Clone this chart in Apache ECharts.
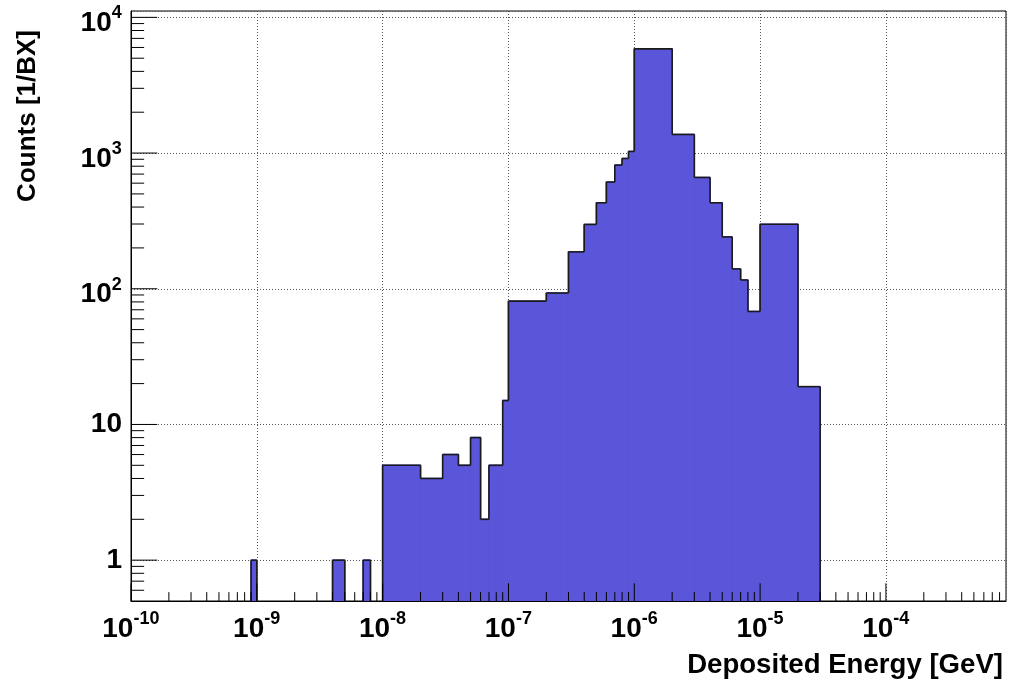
<!DOCTYPE html>
<html><head><meta charset="utf-8">
<script src="https://cdn.jsdelivr.net/npm/echarts@6/dist/echarts.min.js"></script>
<style>html,body{margin:0;padding:0;background:#fff}#c{width:1019px;height:683px}</style>
</head><body><div id="c"></div>
<script>
// ---- data ----
const binEdges = [9e-10, 1e-9, 2e-9, 3e-9, 4e-9, 5e-9, 6e-9, 7e-9, 8e-9, 9e-9,
  1e-8, 2e-8, 3e-8, 4e-8, 5e-8, 6e-8, 7e-8, 8e-8, 9e-8,
  1e-7, 2e-7, 3e-7, 4e-7, 5e-7, 6e-7, 7e-7, 8e-7, 9e-7,
  1e-6, 2e-6, 3e-6, 4e-6, 5e-6, 6e-6, 7e-6, 8e-6, 9e-6,
  1e-5, 2e-5, 3e-5];
const counts = [1, 0, 0, 0, 1, 0, 0, 1, 0, 0,
  5, 4, 6, 5, 8, 2, 5, 5, 15,
  81, 93, 187, 298, 430, 611, 815, 912, 1028,
  5860, 1371, 661, 430, 241, 140, 116, 68, 68,
  299, 19];
const xRange = [1e-10, 9e-4];
const yRange = [0.5, 11140];
const xDecades = [1e-10, 1e-9, 1e-8, 1e-7, 1e-6, 1e-5, 1e-4];
const yDecades = [0.1, 1, 10, 100, 1000, 10000];
const xTitle = 'Deposited Energy [GeV]';
const yTitle = 'Counts [1/BX]';

const FONT = "'Liberation Sans', Arial, Helvetica, sans-serif";
const FILL = '#5a55d9';
const EDGE = '#1a1a1a';

// tick positions (decades and the 2..9 sub-divisions)
function ticksFor(decades, range) {
  const out = [];
  decades.forEach(d => {
    for (let k = 1; k <= 9; k++) {
      const v = k * d;
      if (v >= range[0] * 0.9999 && v < range[1] * 0.9999) out.push([v, k === 1 ? 1 : 0]);
    }
  });
  return out;
}
const xTicks = ticksFor(xDecades, xRange).map(t => [t[0], 1, t[1]]);
const yTicks = ticksFor(yDecades, yRange).filter(t => t[0] > yRange[0]).map(t => [xRange[0], t[0], t[1]]);

const histData = counts.map((c, i) => [binEdges[i], binEdges[i + 1], c,
  i > 0 ? counts[i - 1] : 0, i < counts.length - 1 ? counts[i + 1] : 0]);

function isPow10(v) {
  const l = Math.log10(v), e = Math.round(l);
  return Math.abs(l - e) < 1e-6 ? e : null;
}

function yOf(api, cs, x, v) {
  if (!(v > 0)) return cs.y + cs.height;
  return Math.max(cs.y, api.coord([x, v])[1]);
}

function renderFill(params, api) {
  const cs = params.coordSys, bottom = cs.y + cs.height;
  const c = api.value(2);
  if (!(c > 0)) return null;
  const x0 = api.coord([api.value(0), 1])[0];
  const x1 = api.coord([api.value(1), 1])[0];
  const yc = yOf(api, cs, api.value(0), c);
  return {type: 'rect', shape: {x: x0, y: yc, width: x1 - x0, height: bottom - yc},
    style: {fill: FILL, stroke: FILL, lineWidth: 1.5}};
}

function renderEdge(params, api) {
  const cs = params.coordSys, bottom = cs.y + cs.height;
  const lo = api.value(0), c = api.value(2), prev = api.value(3), next = api.value(4);
  const x0 = api.coord([lo, 1])[0];
  const x1 = api.coord([api.value(1), 1])[0];
  const yc = yOf(api, cs, lo, c), yp = yOf(api, cs, lo, prev), yn = yOf(api, cs, lo, next);
  const st = {stroke: EDGE, lineWidth: 1.6, fill: null};
  const ch = [];
  if (c > 0) ch.push({type: 'line', shape: {x1: x0, y1: yc, x2: x1, y2: yc}, style: st});
  if (yp !== yc) ch.push({type: 'line', shape: {x1: x0, y1: yp, x2: x0, y2: yc}, style: st});
  if (params.dataIndex === counts.length - 1 && yn !== yc)
    ch.push({type: 'line', shape: {x1: x1, y1: yc, x2: x1, y2: yn}, style: st});
  return {type: 'group', children: ch};
}

function renderXTick(params, api) {
  const cs = params.coordSys, bottom = cs.y + cs.height;
  const x = api.coord([api.value(0), 1])[0];
  const len = api.value(2) ? cs.height * 0.03 : cs.height * 0.015;
  return {type: 'line', shape: {x1: x, y1: bottom, x2: x, y2: bottom - len},
    style: {stroke: '#000', lineWidth: 1}};
}
function renderYTick(params, api) {
  const cs = params.coordSys;
  const y = api.coord([xRange[0], api.value(1)])[1];
  const len = api.value(2) ? cs.width * 0.03 : cs.width * 0.015;
  return {type: 'line', shape: {x1: cs.x, y1: y, x2: cs.x + len, y2: y},
    style: {stroke: '#000', lineWidth: 1}};
}

const baseLabel = {fontFamily: FONT, fontWeight: 'bold', color: '#000'};
const gridLine = {show: true, lineStyle: {color: '#555', width: 1, type: [1, 2]}};

const chart = echarts.init(document.getElementById('c'), null, {renderer: 'canvas'});
chart.setOption({
  animation: false,
  backgroundColor: '#fff',
  grid: {left: 131, right: 13, top: 11, bottom: 82, show: true, borderColor: '#000', borderWidth: 1,
    backgroundColor: 'transparent', containLabel: false, outerBoundsMode: 'none'},
  xAxis: [
    {type: 'log', logBase: 10, min: xRange[0], max: xRange[1], z: 0,
      axisLine: {show: false}, axisTick: {show: false}, axisLabel: {show: false},
      splitLine: gridLine},
    {type: 'log', logBase: 10, min: xRange[0], max: xRange[1], position: 'bottom', z: 5,
      axisLine: {show: true, onZero: false, lineStyle: {color: '#000', width: 1}},
      axisTick: {show: false}, splitLine: {show: false},
      axisLabel: {
        margin: 9,
        formatter: v => { const e = isPow10(v); return e === null ? '' : '{b|10}{s|' + e + '}{z| }'; },
        rich: {
          b: Object.assign({fontSize: 28, lineHeight: 30, verticalAlign: 'bottom'}, baseLabel),
          s: Object.assign({fontSize: 18, lineHeight: 12, verticalAlign: 'top'}, baseLabel),
          z: Object.assign({fontSize: 1, lineHeight: 33, verticalAlign: 'top'}, baseLabel)
        }
      },
      name: xTitle, nameLocation: 'end', nameGap: -3, nameMoveOverlap: false,
      nameTextStyle: Object.assign({fontSize: 27.6, lineHeight: 27, align: 'right', verticalAlign: 'top',
        padding: [51, 0, 0, 0]}, baseLabel)
    }
  ],
  yAxis: [
    {type: 'log', logBase: 10, min: yRange[0], max: yRange[1], z: 0,
      axisLine: {show: false}, axisTick: {show: false}, axisLabel: {show: false},
      splitLine: gridLine},
    {type: 'log', logBase: 10, min: yRange[0], max: yRange[1], position: 'left', z: 5,
      axisLine: {show: true, onZero: false, lineStyle: {color: '#000', width: 1}},
      axisTick: {show: false}, splitLine: {show: false},
      axisLabel: {
        margin: 9,
        formatter: v => {
          const e = isPow10(v);
          if (e === null) return '';
          if (e === 0) return '{p|1}';
          if (e === 1) return '{p|10}';
          return '{b|10}{s|' + e + '}{z| }';
        },
        rich: {
          p: Object.assign({fontSize: 28, lineHeight: 30}, baseLabel),
          b: Object.assign({fontSize: 28, lineHeight: 30, verticalAlign: 'bottom'}, baseLabel),
          s: Object.assign({fontSize: 18, lineHeight: 12, verticalAlign: 'top', padding: [7, 0, 0, 0]}, baseLabel),
          z: Object.assign({fontSize: 1, lineHeight: 40, verticalAlign: 'top'}, baseLabel)
        }
      },
      name: yTitle, nameLocation: 'end', nameGap: -19, nameRotate: 90, nameMoveOverlap: false,
      nameTextStyle: Object.assign({fontSize: 26, lineHeight: 26, align: 'right', verticalAlign: 'bottom',
        padding: [0, 0, 90, 0]}, baseLabel)
    }
  ],
  series: [
    {type: 'custom', name: 'fill', renderItem: renderFill, data: histData, z: 2,
      encode: {x: [0, 1], y: 2}, silent: true},
    {type: 'custom', name: 'edge', renderItem: renderEdge, data: histData, z: 3,
      encode: {x: [0, 1], y: 2}, silent: true},
    {type: 'custom', name: 'xticks', renderItem: renderXTick, data: xTicks, z: 6,
      encode: {x: 0, y: 1}, silent: true},
    {type: 'custom', name: 'yticks', renderItem: renderYTick, data: yTicks, z: 6,
      encode: {x: 0, y: 1}, silent: true}
  ]
});
</script>
</body></html>
